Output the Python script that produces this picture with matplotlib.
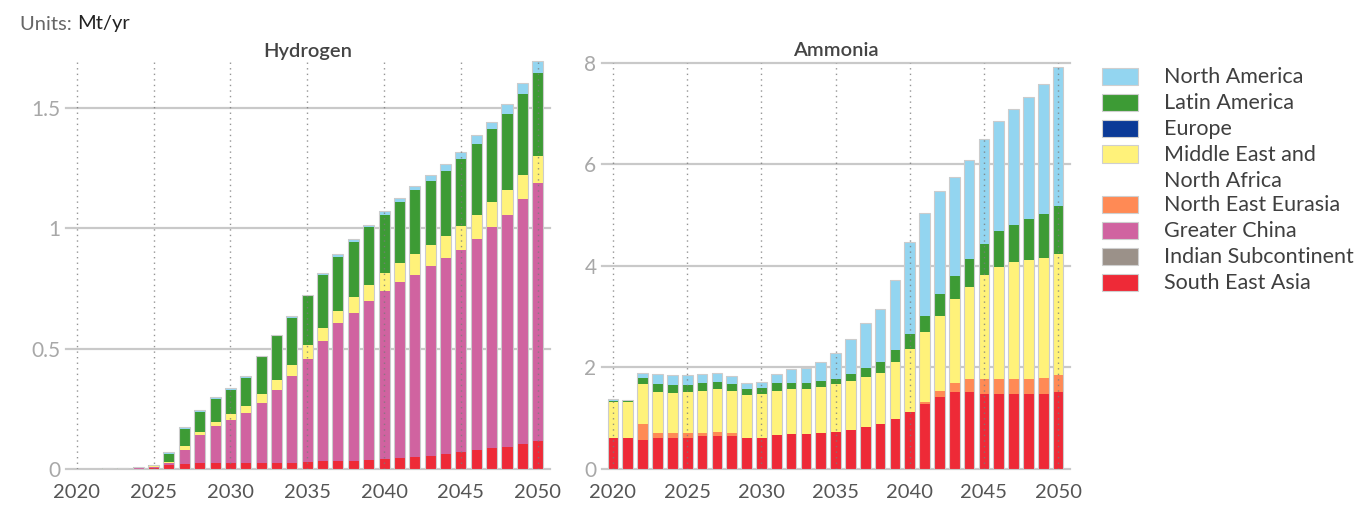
import matplotlib
matplotlib.use("Agg")
import matplotlib.pyplot as plt
from matplotlib.patches import Rectangle
import numpy as np

plt.rcParams['font.family'] = ['Lato', 'DejaVu Sans']

years = list(range(2020, 2051))
xticks = [2020, 2025, 2030, 2035, 2040, 2045, 2050]

regions = ["North America", "Latin America", "Europe", "Middle East and\nNorth Africa",
           "North East Eurasia", "Greater China", "Indian Subcontinent", "South East Asia"]
colors = ["#93d5f0", "#3d9b35", "#0b3a97", "#fff27a", "#ff8a55", "#d063a0", "#9b9189", "#ee2a37"]

zeros = [0.0] * 31

# Hydrogen (Mt/yr), 2020-2050
h_sea = [0, 0, 0, 0, 0.002, 0.005, 0.017, 0.022, 0.023, 0.023, 0.023, 0.023, 0.024, 0.024, 0.025,
         0.030, 0.032, 0.033, 0.034, 0.036, 0.041, 0.044, 0.050, 0.055, 0.062, 0.070, 0.078, 0.086,
         0.093, 0.103, 0.115]
h_china = [0, 0, 0, 0, 0.001, 0.003, 0.008, 0.058, 0.117, 0.155, 0.182, 0.208, 0.252, 0.303, 0.360,
           0.426, 0.500, 0.573, 0.613, 0.660, 0.696, 0.731, 0.756, 0.786, 0.814, 0.840, 0.876, 0.918,
           0.962, 1.017, 1.074]
h_mena = [0, 0, 0, 0, 0.001, 0.003, 0.005, 0.014, 0.015, 0.018, 0.023, 0.030, 0.035, 0.042, 0.046,
          0.058, 0.054, 0.048, 0.069, 0.069, 0.076, 0.080, 0.088, 0.090, 0.092, 0.097, 0.101, 0.103,
          0.104, 0.101, 0.111]
h_latam = [0.002, 0.002, 0.003, 0.004, 0.004, 0.005, 0.034, 0.072, 0.083, 0.094, 0.099, 0.117, 0.152,
           0.182, 0.197, 0.203, 0.218, 0.228, 0.226, 0.238, 0.242, 0.255, 0.263, 0.265, 0.271, 0.281,
           0.296, 0.303, 0.316, 0.337, 0.346]
h_na = [0, 0, 0, 0, 0, 0.001, 0.005, 0.007, 0.008, 0.008, 0.008, 0.007, 0.005, 0.006, 0.007, 0.007,
        0.008, 0.011, 0.012, 0.011, 0.014, 0.014, 0.019, 0.025, 0.028, 0.030, 0.034, 0.030, 0.042,
        0.046, 0.048]

# Ammonia (Mt/yr), 2020-2050
a_sea = [0.62, 0.62, 0.58, 0.62, 0.62, 0.62, 0.64, 0.65, 0.64, 0.62, 0.62, 0.67, 0.69, 0.69, 0.70,
         0.73, 0.77, 0.82, 0.89, 0.98, 1.12, 1.27, 1.42, 1.51, 1.51, 1.47, 1.47, 1.47, 1.47, 1.47, 1.51]
a_nee = [0, 0, 0.31, 0.09, 0.08, 0.09, 0.07, 0.07, 0.06, 0, 0, 0, 0, 0, 0, 0, 0, 0, 0, 0, 0,
         0.04, 0.11, 0.19, 0.27, 0.31, 0.31, 0.31, 0.31, 0.33, 0.34]
a_mena = [0.69, 0.69, 0.78, 0.80, 0.80, 0.80, 0.82, 0.86, 0.83, 0.84, 0.85, 0.86, 0.88, 0.88, 0.91,
          0.95, 0.97, 1.00, 1.01, 1.12, 1.25, 1.38, 1.49, 1.65, 1.81, 2.03, 2.19, 2.29, 2.33, 2.36, 2.39]
a_latam = [0.03, 0.02, 0.12, 0.17, 0.16, 0.15, 0.16, 0.14, 0.14, 0.11, 0.12, 0.16, 0.13, 0.13, 0.13,
           0.10, 0.14, 0.17, 0.21, 0.24, 0.29, 0.33, 0.42, 0.45, 0.54, 0.63, 0.71, 0.74, 0.81, 0.87, 0.93]
a_na = [0.03, 0.03, 0.11, 0.20, 0.19, 0.19, 0.19, 0.18, 0.17, 0.12, 0.13, 0.19, 0.26, 0.29, 0.36,
        0.50, 0.67, 0.88, 1.05, 1.38, 1.80, 2.03, 2.03, 1.95, 1.95, 2.06, 2.17, 2.27, 2.41, 2.56, 2.74]

# series in legend order (top of stack first)
h_series = [h_na, h_latam, zeros, h_mena, zeros, h_china, zeros, h_sea]
a_series = [a_na, a_latam, zeros, a_mena, a_nee, zeros, zeros, a_sea]

W, H = 1364, 509
fig = plt.figure(figsize=(W / 100, H / 100), dpi=100)

def fx(px):
    return px / W

def fy(py):
    return 1 - py / H

axL = fig.add_axes([fx(66), fy(469), fx(550) - fx(66), fy(59.5) - fy(469)])
axR = fig.add_axes([fx(602), fy(469), fx(1070) - fx(602), fy(62.7) - fy(469)])

def draw(ax, series, yticks, ylabels, ymax, xlim):
    x = np.array(years, dtype=float)
    bottom = np.zeros(len(years))
    for vals, col in zip(series[::-1], colors[::-1]):
        v = np.array(vals, dtype=float)
        ax.bar(x, v, width=0.72, bottom=bottom, color=col, edgecolor='none', zorder=2)
        bottom += v
    ax.bar(x, bottom, width=0.72, facecolor='none', edgecolor='#cccccc', linewidth=0.8, zorder=3)
    ax.set_xlim(*xlim)
    ax.set_ylim(0, ymax)
    ax.set_yticks(yticks)
    ax.set_yticklabels(ylabels)
    ax.set_xticks(xticks)
    ax.set_xticklabels([str(t) for t in xticks])
    for s in ax.spines.values():
        s.set_visible(False)
    for yt in yticks:
        ax.axhline(yt, color='#c9c9c9', linewidth=1.6, zorder=1, clip_on=False)
    for xt in xticks:
        ax.axvline(xt, color='#7a7a7a', linewidth=1.0, linestyle=(0, (1, 3)), zorder=4, alpha=0.8)
    ax.tick_params(axis='both', length=0)
    ax.tick_params(axis='x', pad=11, labelsize=14.5, labelcolor='#555555')
    ax.tick_params(axis='y', pad=4, labelsize=15, labelcolor='#a8a8a8')
    ax.set_facecolor('none')

draw(axL, h_series, [0, 0.5, 1, 1.5], ["0", "0.5", "1", "1.5"], 1.70, (2019.3, 2050.8))
draw(axR, a_series, [0, 2, 4, 6, 8], ["0", "2", "4", "6", "8"], 8.0, (2019.26, 2050.8))

fig.text(fx(308), fy(52), "Hydrogen", ha='center', va='center', fontsize=14.5,
         fontweight='semibold', color='#444444')
fig.text(fx(836), fy(50), "Ammonia", ha='center', va='center', fontsize=14.5,
         fontweight='semibold', color='#444444')

t1 = fig.text(fx(20), fy(24), "Units: ", ha='left', va='center', fontsize=14.5, color='#666666')
fig.canvas.draw()
bb = t1.get_window_extent()
fig.text(bb.x1 / W, fy(24), "Mt/yr", ha='left', va='center', fontsize=14.5, color='#222222')

# legend
row_tops = [68.3, 94.3, 120.0, 145.5, 196.0, 222.0, 248.0, 273.7]
text_rows = [77, 103, 129, 155, 205, 231, 257, 283]
for name, col, top, ty in zip(regions, colors, row_tops, text_rows):
    fig.patches.append(Rectangle((fx(1102), fy(top + 17)), fx(36), fy(top) - fy(top + 17),
                                 transform=fig.transFigure, facecolor=col,
                                 edgecolor='#cfcfcf', linewidth=0.8))
    lines = name.split("\n")
    for k, ln in enumerate(lines):
        fig.text(fx(1164), fy(ty + 26 * k), ln, ha='left', va='center', fontsize=15.5,
                 color='#3f3f3f')

fig.savefig("out.png", dpi=100)
